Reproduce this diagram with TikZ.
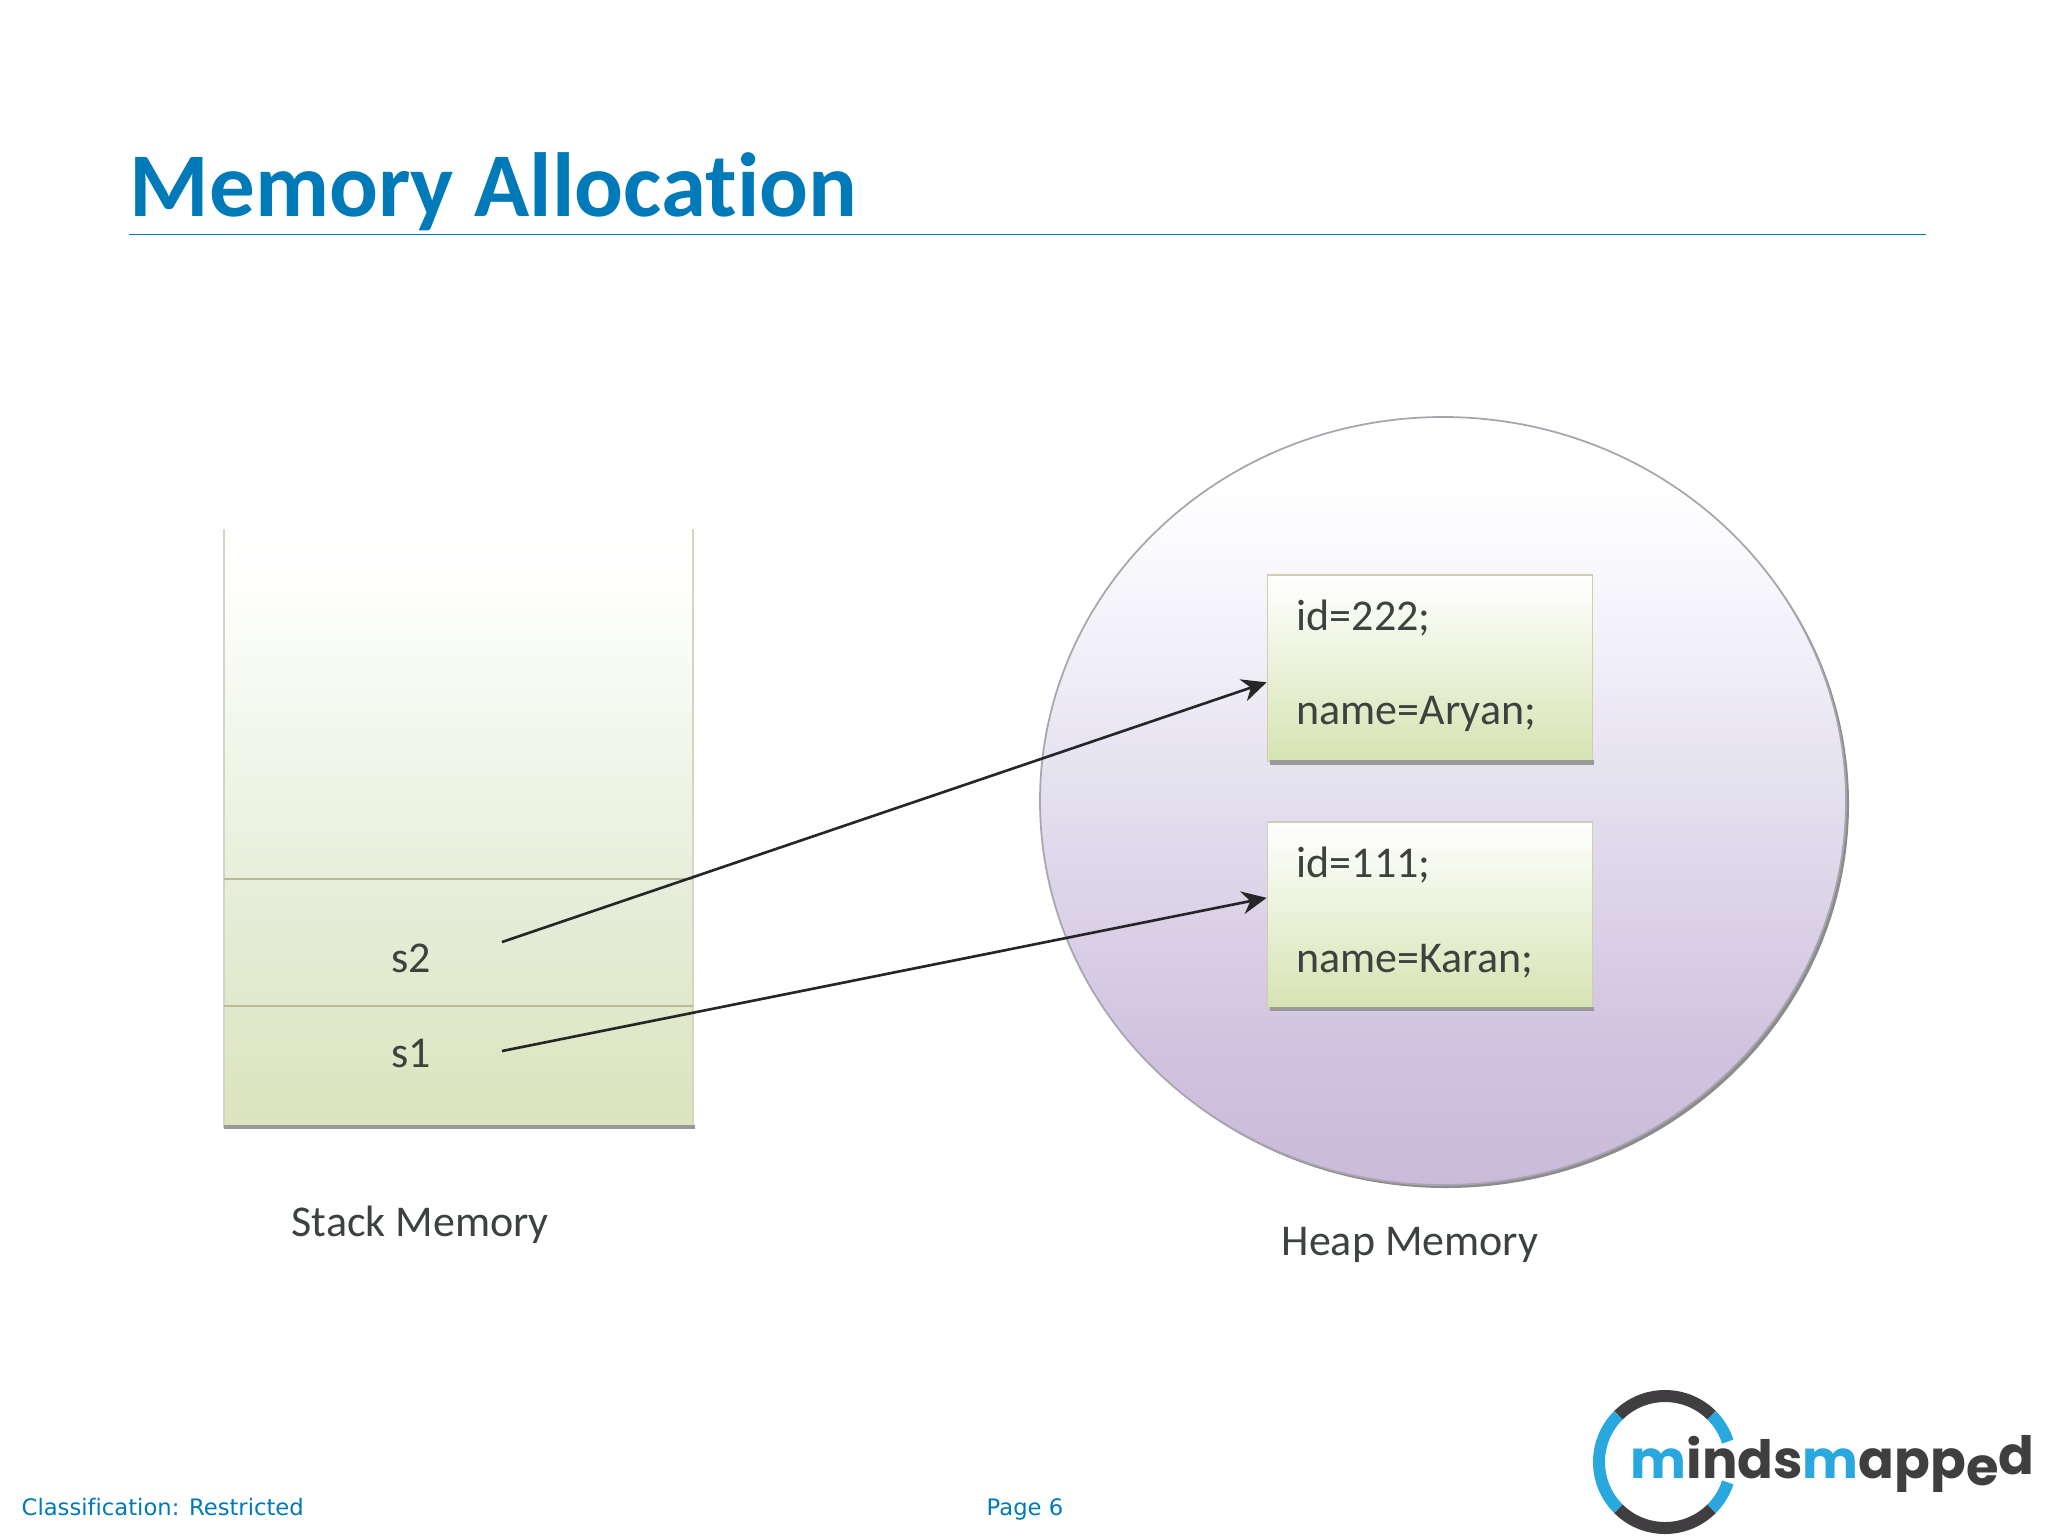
\documentclass[tikz,border=0pt]{standalone}
\usepackage{fontspec}
\setmainfont[Ligatures=NoCommon]{Carlito}
\newfontfamily\footfont[Ligatures=NoCommon]{DejaVu Sans}
\newfontfamily\logofont{Poppins}
\usetikzlibrary{calc,arrows.meta}
\definecolor{titleblue}{RGB}{0,122,184}
\definecolor{logoblue}{RGB}{41,168,224}
\definecolor{logogrey}{RGB}{64,62,64}
\definecolor{stackline}{RGB}{190,184,150}
\definecolor{heapedge}{RGB}{168,165,175}
\definecolor{boxgreen}{RGB}{214,227,178}
\definecolor{inktext}{RGB}{60,66,62}
\pgfdeclareverticalshading{stackfade}{100bp}{
  rgb(0bp)=(.859,.894,.737); rgb(25bp)=(.859,.894,.737); rgb(42bp)=(.894,.925,.843);
  rgb(56bp)=(.941,.965,.910); rgb(70bp)=(.995,.997,.990); rgb(75bp)=(1,1,1); rgb(100bp)=(1,1,1)}
\pgfdeclareverticalshading{heapfade}{100bp}{
  rgb(0bp)=(.796,.729,.855); rgb(25bp)=(.796,.729,.855); rgb(34bp)=(.820,.765,.875);
  rgb(50bp)=(.890,.875,.935); rgb(64bp)=(.970,.965,.985); rgb(71bp)=(1,1,1); rgb(100bp)=(1,1,1)}
\tikzset{>={Stealth[length=7pt,width=6.5pt]},
  heaptext/.style={anchor=west,inner sep=0pt,text=inktext,font=\fontsize{12.5}{14}\selectfont},
  stacktext/.style={inner sep=0pt,text=inktext,font=\fontsize{12.5}{14}\selectfont},
  footer/.style={anchor=base west,inner sep=0pt,text=titleblue,font=\footfont\fontsize{6.45}{8}\selectfont},
  objbox/.style={draw=stackline!70!white,line width=.5pt,top color=white,bottom color=boxgreen,
    minimum width=325*.01cm,minimum height=186*.01cm,inner sep=0pt},
  dropshade/.style={fill=black!40},
  logoring/.style={line width=12*.01cm},
  pointer/.style={->,line width=.75pt,draw=black!85}
}

\begin{document}
\begin{tikzpicture}[x=.01cm,y=-.01cm]
    \useasboundingbox (0,0) rectangle (2048,1536);
    \fill[white] (0,0) rectangle (2048,1536);
    % title
    \node[anchor=base west,inner sep=0pt,text=titleblue,font=\fontsize{25.9}{28}\selectfont\bfseries] (title) at (129,216) {Memory Allocation};
    \draw[titleblue,line width=.25pt] (129,234) -- (1926,234);
    % stack
    \shade[shading=stackfade] (224,529) rectangle (693,1126);
    \draw[stackline!60!white,line width=.5pt] (224,529) -- (224,1128);
    \draw[stackline!60!white,line width=.5pt] (693,529) -- (693,1128);
    \draw[stackline,line width=.5pt] (224,879) -- (693,879);
    \draw[stackline,line width=.5pt] (224,1006) -- (693,1006);
    \fill[dropshade] (224,1125) rectangle (695,1129);
    \node[stacktext] (s2) at (411,958) {s2};
    \node[stacktext] (s1) at (411,1053) {s1};
    \node[stacktext,anchor=west] (stacklabel) at (291,1225) {Stack Memory};
    % heap
    \fill[black!45] (1446,804) ellipse (403 and 384);
    \shade[shading=heapfade] (1443,801) ellipse (403 and 384);
    \draw[heapedge,line width=.5pt] (1443,801) ellipse (403 and 384);
    \node[stacktext,anchor=west] (heaplabel) at (1281,1245) {Heap Memory};
    % objects
    \node[objbox] (aryan) at (1430,668) {};
    \node[objbox] (karan) at (1430,915) {};
    \fill[dropshade] (1270,760) rectangle (1594,765);
    \fill[dropshade] (1270,1007) rectangle (1594,1011);
    \node[heaptext] (id2) at (1296,618) {id=222;};
    \node[heaptext] (name2) at (1296,714) {name=Aryan;};
    \node[heaptext] (id1) at (1296,865) {id=111;};
    \node[heaptext] (name1) at (1296,961) {name=Karan;};
    % pointers
    \coordinate (s2out) at (502,942);
    \coordinate (s1out) at (502,1051);
    \draw[pointer] (s2out) -- (aryan.185);
    \draw[pointer] (s1out) -- (karan.174);
    % footer
    \node[footer] (classif) at (21,1515) {Classification: Restricted};
    \node[footer] (pagenum) at (986,1515) {Page 6};
    % logo
    \draw[logoring,logogrey] (1665,1462) ++(45:66 and -66) arc[start angle=45,end angle=135,radius=66*.01cm];
    \draw[logoring,logogrey] (1665,1462) ++(225:66 and -66) arc[start angle=225,end angle=315,radius=66*.01cm];
    \draw[logoring,logoblue] (1665,1462) ++(135:66 and -66) arc[start angle=135,end angle=225,radius=66*.01cm];
    \draw[logoring,logoblue] (1665,1462) ++(18:66 and -66) arc[start angle=18,end angle=45,radius=66*.01cm];
    \draw[logoring,logoblue] (1665,1462) ++(315:66 and -66) arc[start angle=315,end angle=342,radius=66*.01cm];
    \node[anchor=base west,inner sep=0pt,font=\logofont\fontsize{15}{18}\selectfont\bfseries] (logo) at (1630,1478)
      {\textcolor{logoblue}{m}\textcolor{logogrey}{inds}\textcolor{logoblue}{m}\textcolor{logogrey}{app\raisebox{-2pt}{e}\raisebox{1pt}{d}}};
  \end{tikzpicture}
\end{document}
